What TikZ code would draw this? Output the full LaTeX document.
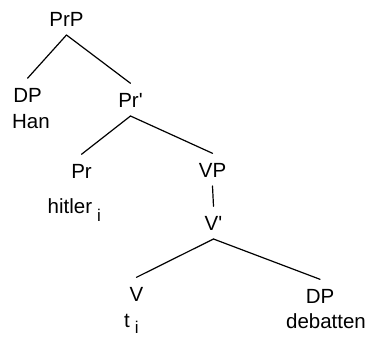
\documentclass[tikz,border=0pt]{standalone}
\usepackage{fontspec}
\setmainfont{Liberation Sans}
\begin{document}
\begin{tikzpicture}[x=1pt,y=-1pt,
  every node/.style={font=\fontsize{20.5}{24}\selectfont, inner sep=0pt},
  cat/.style={anchor=base, text height=14.7pt, text depth=0pt, outer sep=9pt},
  word/.style={anchor=base},
  branch/.style={line width=1.2pt, line cap=round}]
\useasboundingbox (0,0) rectangle (370,338);
% labels of the tree
\node[cat] (prp) at (66.5,26) {PrP};
\node[cat] (dp1) at (27.5,102) {DP};
\node[word] (han) at (31,128) {Han};
\node[cat] (prbar) at (130.5,107) {Pr\textquotesingle};
\node[cat] (pr) at (81.5,178) {Pr};
\node[word, anchor=base west] (hitler) at (47.5,213) {hitler\hspace{5pt}\raisebox{-8pt}{\fontsize{17}{17}\selectfont i}};
\node[cat] (vp) at (212.5,177) {VP};
\node[cat] (vbar) at (213.5,230) {V\textquotesingle};
\node[cat] (v) at (136.5,301) {V};
\node[word, anchor=base west] (trace) at (124,327) {t\hspace{5pt}\raisebox{-6.5pt}{\fontsize{17}{17}\selectfont i}};
\node[cat] (dp2) at (320,303) {DP};
\node[word] (obj) at (326,328) {debatten};
% branches
\draw[branch] (prp.south) -- (dp1.north);
\draw[branch] (prp.south) -- (prbar.north);
\draw[branch] (prbar.south) -- (pr.north);
\draw[branch] (prbar.south) -- (vp.north);
\draw[branch] (vp.south) -- (vbar.north);
\draw[branch] (vbar.south) -- (v.north);
\draw[branch] (vbar.south) -- (dp2.north);
\end{tikzpicture}
\end{document}
